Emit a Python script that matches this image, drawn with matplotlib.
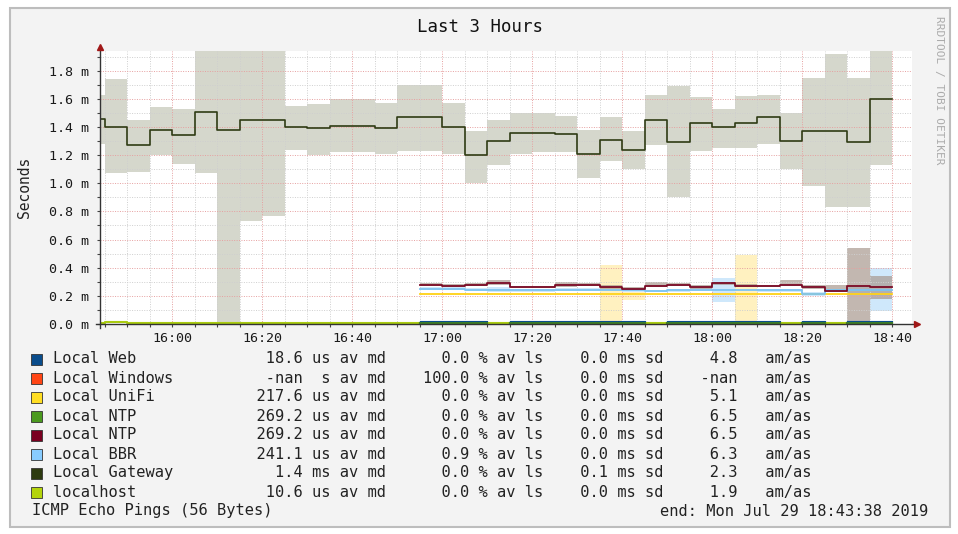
import numpy as np
import matplotlib.pyplot as plt
from matplotlib.patches import Rectangle
from matplotlib.ticker import FixedLocator, MultipleLocator, FuncFormatter

plt.rcParams['font.family'] = ['DejaVu Sans Mono']

W, H = 958, 534
nan = np.nan

# time bins, minutes since midnight: 15:44 (partial), 15:45 .. 18:35, last edge 18:40
edges = np.array([944] + list(range(945, 1121, 5)))

# Local Gateway (ms)
gw_med = [1.46, 1.40, 1.27, 1.38, 1.34, 1.51, 1.38, 1.45, 1.45, 1.40, 1.39, 1.41,
          1.41, 1.39, 1.47, 1.47, 1.40, 1.20, 1.30, 1.36, 1.36, 1.35, 1.21, 1.31,
          1.24, 1.45, 1.29, 1.43, 1.40, 1.43, 1.47, 1.30, 1.37, 1.37, 1.29, 1.60]
gw_max = [1.63, 1.74, 1.45, 1.54, 1.53, 2.00, 2.00, 2.00, 2.00, 1.55, 1.56, 1.60,
          1.60, 1.57, 1.70, 1.70, 1.57, 1.37, 1.45, 1.50, 1.50, 1.48, 1.38, 1.47,
          1.37, 1.63, 1.69, 1.61, 1.53, 1.62, 1.63, 1.50, 1.75, 1.92, 1.75, 1.94]
gw_min = [1.28, 1.07, 1.08, 1.20, 1.14, 1.07, 0.00, 0.73, 0.77, 1.24, 1.20, 1.22,
          1.22, 1.21, 1.23, 1.23, 1.21, 1.00, 1.13, 1.21, 1.22, 1.22, 1.04, 1.16,
          1.10, 1.27, 0.90, 1.23, 1.25, 1.25, 1.28, 1.10, 0.98, 0.83, 0.83, 1.13]

# hosts that only report from 16:55 on (21 bins)
ntp_med = [0.28, 0.27, 0.28, 0.29, 0.26, 0.26, 0.275, 0.28, 0.26, 0.25, 0.27,
           0.28, 0.26, 0.29, 0.27, 0.27, 0.28, 0.26, 0.235, 0.27, 0.26]
ntp_max = [0.29, 0.285, 0.29, 0.315, 0.27, 0.27, 0.295, 0.29, 0.275, 0.26, 0.295,
           0.29, 0.275, 0.30, 0.285, 0.28, 0.31, 0.275, 0.275, 0.54, 0.34]
ntp_min = [0.27, 0.26, 0.27, 0.28, 0.255, 0.255, 0.265, 0.27, 0.25, 0.24, 0.26,
           0.27, 0.25, 0.28, 0.26, 0.26, 0.27, 0.25, 0.23, 0.01, 0.18]

bbr_med = [0.25, 0.25, 0.245, 0.245, 0.24, 0.24, 0.245, 0.245, 0.245, 0.24, 0.235,
           0.24, 0.245, 0.245, 0.245, 0.24, 0.24, 0.21, 0.24, 0.24, 0.24]
bbr_max = [0.26, 0.26, 0.255, 0.265, 0.25, 0.25, 0.255, 0.255, 0.255, 0.25, 0.245,
           0.25, 0.255, 0.33, 0.255, 0.25, 0.25, 0.225, 0.25, 0.26, 0.40]
bbr_min = [0.24, 0.24, 0.235, 0.225, 0.23, 0.23, 0.235, 0.235, 0.235, 0.23, 0.225,
           0.23, 0.235, 0.155, 0.235, 0.23, 0.23, 0.20, 0.23, 0.22, 0.095]

unifi_med = [0.215, 0.215, 0.21, 0.215, 0.21, 0.21, 0.21, 0.21, 0.215, 0.215, 0.21,
             0.215, 0.21, 0.215, 0.215, 0.21, 0.215, 0.21, 0.21, 0.21, 0.21]
unifi_max = [0.221, 0.221, 0.216, 0.221, 0.216, 0.216, 0.216, 0.216, 0.42, 0.23, 0.216,
             0.221, 0.216, 0.221, 0.49, 0.216, 0.221, 0.216, 0.216, 0.216, 0.216]
unifi_min = [0.209, 0.209, 0.204, 0.209, 0.204, 0.204, 0.204, 0.204, 0.02, 0.17, 0.204,
             0.209, 0.204, 0.209, 0.02, 0.204, 0.209, 0.204, 0.204, 0.204, 0.204]

web_med = [0.019, 0.019, 0.019, nan, 0.019, 0.019, 0.019, 0.019, 0.019, 0.019, nan,
           0.019, 0.019, 0.019, 0.019, 0.019, nan, 0.019, nan, 0.019, 0.019]
green_med = [0.006, 0.006, 0.006, nan, 0.006, 0.006, 0.006, 0.006, 0.006, 0.006, nan,
             0.006, 0.006, 0.006, 0.006, 0.006, nan, 0.006, nan, 0.006, 0.006]

# localhost over all 36 bins
lh_med = [0.008, 0.016] + [0.008] * 34

# legend table
names = ['Local Web', 'Local Windows', 'Local UniFi', 'Local NTP', 'Local NTP',
         'Local BBR', 'Local Gateway', 'localhost']
leg_colors = ['#0a4d8c', '#ff4515', '#ffdd22', '#4b9a1f', '#7a0020',
              '#88ccff', '#2d3a10', '#b4d40c']
med_vals = ['18.6', '-nan', '217.6', '269.2', '269.2', '241.1', '1.4', '10.6']
med_units = ['us', 's', 'us', 'us', 'us', 'us', 'ms', 'us']
loss_vals = ['0.0', '100.0', '0.0', '0.0', '0.0', '0.9', '0.0', '0.0']
sd_vals = ['0.0', '0.0', '0.0', '0.0', '0.0', '0.0', '0.1', '0.0']
amas_vals = ['4.8', '-nan', '5.1', '6.5', '6.5', '6.3', '2.3', '1.9']

x_ticks = [960, 980, 1000, 1020, 1040, 1060, 1080, 1100, 1120]
y_ticks = [0.0, 0.2, 0.4, 0.6, 0.8, 1.0, 1.2, 1.4, 1.6, 1.8]


def late(vals):
    return np.array([nan] * 15 + list(vals), dtype=float)


def ext(vals):
    v = np.asarray(vals, dtype=float)
    return np.append(v, v[-1])


fig = plt.figure(figsize=(W / 100, H / 100), dpi=100, facecolor='white')
fig.patches.append(Rectangle((10 / W, 1 - 527 / H), 940 / W, 519 / H,
                             transform=fig.transFigure, facecolor='#f3f3f3',
                             edgecolor='#bdbdbd', lw=1.5, zorder=-5))

ax = fig.add_axes([100 / W, 1 - 324 / H, 812 / W, (324 - 51) / H])
ax.set_zorder(1)
ax.set_facecolor('white')
ax.set_xlim(944, 1124.4)
ax.set_ylim(0, 1.94)

# smoke bands
ax.fill_between(edges, ext(gw_min), ext(gw_max), step='post', color='#d5d7cc', lw=0, zorder=1)
ax.fill_between(edges, ext(late(bbr_min)), ext(late(bbr_max)), step='post', color='#cfe8fb', lw=0, zorder=1.1)
ax.fill_between(edges, ext(late(unifi_min)), ext(late(unifi_max)), step='post', color='#fff1c0', lw=0, zorder=1.2)
ax.fill_between(edges, ext(late(ntp_min)), ext(late(ntp_max)), step='post', color='#a8998f', alpha=0.7, lw=0, zorder=1.3)

# medians
ax.step(edges, ext(lh_med), where='post', color='#aacc11', lw=1.5, zorder=3)
ax.step(edges, ext(late(green_med)), where='post', color='#3f7f24', lw=1.6, zorder=3.1)
ax.step(edges, ext(late(web_med)), where='post', color='#0a4d8c', lw=0.8, zorder=3.2)
ax.step(edges, ext(late(unifi_med)), where='post', color='#ffd21a', lw=1.3, zorder=3.3)
ax.step(edges, ext(late(bbr_med)), where='post', color='#7cc4f2', lw=1.3, zorder=3.4)
ax.step(edges, ext(late(ntp_med)), where='post', color='#7a0a25', lw=1.3, zorder=3.5)
ax.step(edges, ext(gw_med), where='post', color='#2f3b14', lw=1.2, zorder=3.6)

# grid
ax.xaxis.set_major_locator(FixedLocator(x_ticks))
ax.xaxis.set_minor_locator(MultipleLocator(5))
ax.yaxis.set_major_locator(FixedLocator(y_ticks))
ax.yaxis.set_minor_locator(MultipleLocator(0.1))
ax.xaxis.set_major_formatter(FuncFormatter(lambda v, p: '%02d:%02d' % (int(v) // 60, int(v) % 60)))
ax.yaxis.set_major_formatter(FuncFormatter(lambda v, p: '%.1f m' % v))
ax.grid(which='major', color='#e6a0a0', lw=0.7, ls=(0, (1, 1.5)), zorder=2)
ax.grid(which='minor', color='#cfcfcf', lw=0.7, ls=(0, (1, 1.5)), zorder=2)
ax.set_axisbelow(False)

ax.tick_params(which='both', length=2, width=0.8, color='#444444', labelsize=9.6,
               labelcolor='#1a1a1a')
ax.tick_params(axis='y', pad=6)
ax.tick_params(axis='x', pad=4)
for s in ax.spines.values():
    s.set_visible(False)

# axis lines with arrows
ax.plot([-4 / 812, 1 + 2 / 812], [0, 0], color='#333333', lw=1, transform=ax.transAxes, clip_on=False, zorder=5)
ax.plot([0, 0], [-4 / 273, 1 + 2 / 273], color='#333333', lw=1, transform=ax.transAxes, clip_on=False, zorder=5)
ax.plot(1 + 5 / 812, 0, marker='>', color='#a01818', ms=5, transform=ax.transAxes, clip_on=False, zorder=6)
ax.plot(0, 1 + 4 / 273, marker='^', color='#a01818', ms=5, transform=ax.transAxes, clip_on=False, zorder=6)

ax.set_ylabel('Seconds', fontsize=10.5, color='#222222', labelpad=12)

fig.text(480 / W, 1 - 27 / H, 'Last 3 Hours', ha='center', va='center', fontsize=12.5, color='#111111')
fig.text(939 / W, 1 - 90 / H, 'RRDTOOL / TOBI OETIKER', rotation=-90, ha='center', va='center',
         fontsize=8, color='#ababab')

# legend
for i, name in enumerate(names):
    yc = 1 - (359 + 19 * i) / H
    fig.patches.append(Rectangle((31 / W, yc - 6 / H), 11 / W, 11 / H, transform=fig.transFigure,
                                 facecolor=leg_colors[i], edgecolor='#333333', lw=0.6, zorder=2))
    line = (f'{name:<20}{med_vals[i]:>7} {med_units[i]:>2} av md{loss_vals[i]:>9} % av ls'
            f'{sd_vals[i]:>7} ms sd{amas_vals[i]:>8}   am/as')
    fig.text(53 / W, yc, line, ha='left', va='center', fontsize=11.1, color='#222222')

fig.text(32 / W, 1 - 511 / H, 'ICMP Echo Pings (56 Bytes)', ha='left', va='center',
         fontsize=11.1, color='#222222')
fig.text(928 / W, 1 - 511 / H, 'end: Mon Jul 29 18:43:38 2019', ha='right', va='center',
         fontsize=11.1, color='#222222')

fig.savefig('out.png', dpi=100, facecolor='white')
